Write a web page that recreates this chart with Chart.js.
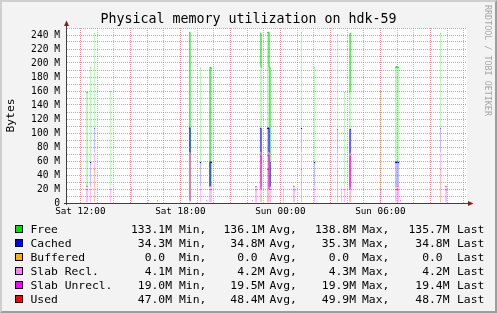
<!DOCTYPE html>
<html>
<head>
<meta charset="utf-8">
<script src="https://cdn.jsdelivr.net/npm/chart.js@4.4.0/dist/chart.umd.min.js"></script>
<style>
  html, body { margin: 0; padding: 0; background: #f3f3f3; }
  #wrap { position: relative; width: 497px; height: 313px; overflow: hidden; font-family: 'DejaVu Sans Mono', monospace; }
  #chart { position: absolute; left: 0; top: 0; }
  #title { position: absolute; left: 0; top: 11px; width: 497px; text-align: center; font-size: 13.3px; line-height: 16px; color: #000; white-space: pre; }
  #frame { position: absolute; left: 0; top: 0; width: 493px; height: 309px; border: 2px solid; border-color: #cfcfcf #9e9e9e #9e9e9e #cfcfcf; pointer-events: none; }
  #watermark { position: absolute; left: 483px; top: 5px; writing-mode: vertical-rl; font-size: 8.4px; line-height: 9px; color: #a6a6a6; white-space: pre; }
  .lg { position: absolute; font-size: 11.35px; line-height: 14px; height: 14px; white-space: pre; color: #000; }
  .sw { position: absolute; width: 6px; height: 6px; border: 1px solid #000; }
</style>
</head>
<body>
<div id="wrap">
  <canvas id="chart" width="497" height="313"></canvas>
  <div id="title">Physical memory utilization on hdk-59</div>
  <div id="legend"></div>
  <div id="watermark">RRDTOOL / TOBI OETIKER</div>
  <div id="frame"></div>
</div>
<script>
// time axis, minutes after Sat 00:00
const T0 = 672;    // Sat 11:12
const T1 = 2112;   // Sun 11:12
const STEP = 3.6;  // minutes per consolidated sample

const xLabelTimes = [720, 1080, 1440, 1800];
const xLabels = ['Sat 12:00', 'Sat 18:00', 'Sun 00:00', 'Sun 06:00'];

// the samples that were actually collected (everything else is unknown)
const sampleTimes = [742, 746, 757, 771, 829, 904, 965, 998, 1113, 1117, 1153, 1174, 1185, 1189, 1192,
  1340, 1351, 1354, 1369, 1372, 1394, 1397, 1401, 1405, 1451, 1487, 1491, 1516, 1563, 1646,
  1660, 1671, 1689, 1693, 1801, 1855, 1858, 1862, 1865, 1873, 2017, 2035, 2038];

// values in MB, null = unknown
const used = [null, null, null, 48.1, null, null, null, null, 48.4, null, null, null, null, null, null,
  null, null, null, 48.0, null, 48.2, 48.5, null, null, null, null, null, 48.3, null, 46.5,
  null, null, null, 47.0, null, null, null, null, null, null, 48.2, null, null];
const slabUnrecl = [19.5, 19.4, 19.5, 19.9, 19.5, 19.0, null, null, 19.6, null, 19.5, null, 19.5, 19.5, 19.4,
  null, 19.3, 19.4, 19.7, 19.6, 19.8, 19.5, 19.5, 19.5, 19.6, 19.5, 19.4, 19.6, 19.5, 19.9,
  19.5, 19.5, 19.5, 19.9, 19.5, 19.5, 19.5, 19.5, 19.4, null, 19.8, 19.5, 19.4];
const slabRecl = [4.3, 4.3, 4.3, 4.1, 4.2, 4.1, 4.3, 4.3, 4.2, 4.2, 4.2, 4.2, 4.2, 4.2, 4.2,
  4.2, 4.1, 4.2, 4.2, 4.2, 4.3, 4.2, 4.2, 4.2, 4.2, 4.3, 4.2, 4.2, 4.2, 4.2,
  4.2, 4.2, 4.2, 4.2, 4.2, 4.2, 4.2, 4.2, 4.2, 4.3, 4.2, 4.2, 4.2];
const buffered = [null, null, 0, 0, null, null, null, null, 0, null, 0, null, null, 0, 0,
  null, null, null, 0, 0, 0, 0, 0, null, null, null, null, 0, 0, 0,
  null, null, null, 0, null, 0, 0, 0, 0, null, 0, null, null];
const cached = [null, null, 34.9, 34.6, null, null, null, null, 35.3, null, 34.8, null, null, 34.9, 34.8,
  null, null, null, 34.8, 34.7, 35.0, 34.9, 34.8, null, null, null, null, 35.2, 34.9, 34.6,
  null, null, null, 34.3, null, 34.8, 34.9, 34.8, 34.8, null, 34.6, null, null];
const free = [134.4, 134.5, 135.3, 135.7, 135.8, null, null, null, 136.3, null, 135.0, null, null, 135.2, 134.0,
  null, null, null, 135.7, 136.2, 136.5, 136.7, 135.3, null, null, null, null, 136.5, 135.2, 135.8,
  null, 134.4, 135.3, 137.0, 135.8, 135.3, 136.1, 135.5, 135.4, null, 135.6, null, null];

// legend statistics (MB)
const legendNames = ['Free', 'Cached', 'Buffered', 'Slab Recl.', 'Slab Unrecl.', 'Used'];
const legendMin = [133.1, 34.3, 0, 4.1, 19.0, 47.0];
const legendAvg = [136.1, 34.8, 0, 4.2, 19.5, 48.4];
const legendMax = [138.8, 35.3, 0, 4.3, 19.9, 49.9];
const legendLast = [135.7, 34.8, 0, 4.2, 19.4, 48.7];

// stacking order, bottom to top
const layers = [
  { label: 'Used', values: used, color: '#ff0000', fade: '#ffbfbf' },
  { label: 'Slab Unrecl.', values: slabUnrecl, color: '#ff00ff', fade: '#ffbfff' },
  { label: 'Slab Recl.', values: slabRecl, color: '#ff80ff', fade: '#ffdfff' },
  { label: 'Buffered', values: buffered, color: '#ffb000', fade: '#ffebbf' },
  { label: 'Cached', values: cached, color: '#0000ff', fade: '#bfbfff' },
  { label: 'Free', values: free, color: '#00e000', fade: '#bff7bf' }
];

const nSlots = Math.round((T1 - T0) / STEP);
const slotX = i => T0 + STEP * (i + 0.5);
const slotOf = t => Math.round((t - T0) / STEP - 0.5);

// rrdtool ADDNAN stacking: an unknown layer counts as 0 once something below it is known
const filled = layers.map(() => new Array(nSlots).fill(null));
sampleTimes.forEach((t, j) => {
  const k = slotOf(t);
  let below = false;
  layers.forEach((l, b) => {
    const v = l.values[j];
    if (v !== null) { filled[b][k] = v; below = true; }
    else if (below) filled[b][k] = 0;
  });
});

const datasets = [];
layers.forEach((l, b) => {
  datasets.push({
    type: 'bar', label: l.label, stack: 'area', order: 10 + b,
    data: filled[b].map((v, i) => ({ x: slotX(i), y: v })),
    backgroundColor: l.fade, borderColor: l.color,
    borderWidth: { top: 1, right: 0, bottom: 0, left: 0 }, borderSkipped: false,
    barThickness: 1.5, inflateAmount: 0
  });
  datasets.push({
    type: 'line', label: l.label, stack: 'line', order: b,
    data: filled[b].map((v, i) => ({ x: slotX(i), y: v })),
    borderColor: l.color, borderWidth: 1, stepped: 'middle',
    pointRadius: 0, fill: false, spanGaps: false
  });
});

const MONO = "'DejaVu Sans Mono', monospace";
const MGRID = 'rgba(222, 80, 80, 0.6)';
const GRID = 'rgba(143, 143, 143, 0.6)';

const hourTicks = [];
for (let t = 720; t <= 2100; t += 60) hourTicks.push({ value: t });

const rrdFrame = {
  id: 'rrdFrame',
  beforeDraw(chart) {
    const { ctx, chartArea: a } = chart;
    ctx.save();
    ctx.fillStyle = '#ffffff';
    ctx.fillRect(a.left, a.top, a.right - a.left, a.bottom - a.top);
    ctx.restore();
  },
  afterDraw(chart) {
    const { ctx, chartArea: a } = chart;
    ctx.save();
    ctx.strokeStyle = '#404040';
    ctx.lineWidth = 1;
    ctx.beginPath();
    ctx.moveTo(a.left - 0.5, a.bottom + 2);
    ctx.lineTo(a.left - 0.5, a.top - 3);
    ctx.moveTo(a.left - 3, a.bottom + 0.5);
    ctx.lineTo(a.right + 2, a.bottom + 0.5);
    ctx.stroke();
    ctx.fillStyle = '#7f1f1f';
    ctx.beginPath();
    ctx.moveTo(a.left - 0.5, a.top - 7.5);
    ctx.lineTo(a.left - 3, a.top - 2);
    ctx.lineTo(a.left + 2, a.top - 2);
    ctx.closePath();
    ctx.fill();
    ctx.beginPath();
    ctx.moveTo(a.right + 6.5, a.bottom + 0.5);
    ctx.lineTo(a.right + 1, a.bottom - 2);
    ctx.lineTo(a.right + 1, a.bottom + 3);
    ctx.closePath();
    ctx.fill();
    ctx.restore();
  }
};

new Chart(document.getElementById('chart'), {
  type: 'bar',
  data: { datasets },
  options: {
    responsive: false,
    animation: false,
    devicePixelRatio: 1,
    layout: { padding: { top: 28, right: 30, bottom: 95, left: 0 } },
    plugins: {
      legend: { display: false },
      tooltip: { enabled: false },
      title: { display: false }
    },
    scales: {
      x: {
        type: 'linear', min: T0, max: T1, offset: false,
        afterBuildTicks: s => { s.ticks = hourTicks.map(t => ({ value: t.value })); },
        afterFit: s => { s.height = 15; },
        grid: { color: c => (c.tick && c.tick.value % 180 === 0 ? MGRID : GRID), drawTicks: false, offset: false, z: 1 },
        border: { display: false, dash: [1, 1] },
        ticks: {
          autoSkip: false, maxRotation: 0, minRotation: 0, padding: 3, color: '#000',
          font: { family: MONO, size: 9.3 },
          callback: v => { const i = xLabelTimes.indexOf(v); return i >= 0 ? xLabels[i] : ''; }
        }
      },
      y: {
        min: 0, max: 250, stacked: true,
        afterFit: s => { s.width = 67; },
        grid: { color: MGRID, drawTicks: false, z: 1 },
        border: { display: false, dash: [1, 1] },
        ticks: {
          stepSize: 10, autoSkip: false, padding: 7, color: '#000',
          font: { family: MONO, size: 9.6 },
          callback: v => (v === 0 ? '0' : (v % 20 === 0 ? v + ' M' : ''))
        },
        title: {
          display: true, text: 'Bytes', color: '#000',
          font: { family: MONO, size: 11.3 }, padding: { top: 4, bottom: 0 }
        }
      }
    }
  },
  plugins: [rrdFrame]
});

// legend, rrdtool style
const legendBox = document.getElementById('legend');
const legendColors = ['#00e000', '#0000ff', '#ffb000', '#ff80ff', '#ff00ff', '#ff0000'];
const cols = [
  { right: 172, word: 'Min,', left: 179, vals: legendMin },
  { right: 264.5, word: 'Avg,', left: 269.5, vals: legendAvg },
  { right: 356, word: 'Max,', left: 362, vals: legendMax },
  { right: 449.5, word: 'Last', left: 457, vals: legendLast }
];
const fmt = v => (v === 0 ? '0.0 ' : v.toFixed(1) + 'M');
function addEl(cls, css, text) {
  const el = document.createElement('div');
  el.className = cls;
  Object.assign(el.style, css);
  if (text !== undefined) el.textContent = text;
  legendBox.appendChild(el);
}
legendNames.forEach((name, r) => {
  const cy = 229 + r * 14;
  addEl('sw', { left: '15px', top: (cy - 4) + 'px', background: legendColors[r] });
  addEl('lg', { left: '30.5px', top: (cy - 7) + 'px' }, name);
  cols.forEach(c => {
    addEl('lg', { right: (497 - c.right) + 'px', top: (cy - 7) + 'px' }, fmt(c.vals[r]));
    addEl('lg', { left: c.left + 'px', top: (cy - 7) + 'px' }, c.word);
  });
});
</script>
</body>
</html>
